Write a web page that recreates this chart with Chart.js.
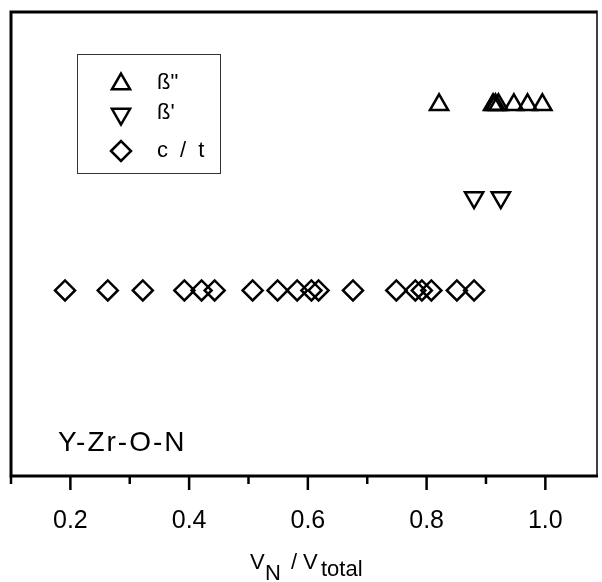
<!DOCTYPE html>
<html>
<head>
<meta charset="utf-8">
<script src="https://cdn.jsdelivr.net/npm/chart.js@4/dist/chart.umd.min.js"></script>
<style>
html,body{margin:0;padding:0;background:#fff;}
canvas{display:block;}
</style>
</head>
<body>
<canvas id="c" width="602" height="582"></canvas>
<script>
// ---- data ----
const betaDoublePrimeX = [0.821, 0.912, 0.916, 0.921, 0.947, 0.970, 0.995];
const betaDoublePrimeY = [3, 3, 3, 3, 3, 3, 3];
const betaPrimeX = [0.880, 0.925];
const betaPrimeY = [2, 2];
const ctX = [0.191, 0.263, 0.322, 0.392, 0.421, 0.443, 0.507, 0.549, 0.582, 0.606, 0.618, 0.676, 0.749, 0.781, 0.792, 0.808, 0.851, 0.880];
const ctY = [1, 1, 1, 1, 1, 1, 1, 1, 1, 1, 1, 1, 1, 1, 1, 1, 1, 1];
const seriesNames = ['ß"', "ß'", 'c / t'];
const tickValues = [0.1, 0.2, 0.3, 0.4, 0.5, 0.6, 0.7, 0.8, 0.9, 1.0];
const tickLabels = ['', '0.2', '', '0.4', '', '0.6', '', '0.8', '', '1.0'];
const systemLabel = 'Y-Zr-O-N';

const FONT = '"Liberation Sans", Arial, Helvetica, sans-serif';

function pts(xs, ys) { return xs.map((x, i) => ({x: x, y: ys[i]})); }

function markerPath(ctx, style, x, y, r) {
  ctx.beginPath();
  if (style === 'up' || style === 'down') {
    const base = style === 'up' ? 0 : Math.PI;
    for (let k = 0; k < 3; k++) {
      const a = base + k * 2 * Math.PI / 3;
      const px = x + Math.sin(a) * r, py = y - Math.cos(a) * r;
      k ? ctx.lineTo(px, py) : ctx.moveTo(px, py);
    }
  } else {
    ctx.moveTo(x - r, y); ctx.lineTo(x, y - r); ctx.lineTo(x + r, y); ctx.lineTo(x, y + r);
  }
  ctx.closePath();
  ctx.stroke();
}

const decorPlugin = {
  id: 'decor',
  afterDraw(chart) {
    const ctx = chart.ctx;
    const a = chart.chartArea;
    const xs = chart.scales.x;
    ctx.save();
    ctx.strokeStyle = '#000';
    ctx.lineCap = 'butt';
    // frame
    ctx.lineWidth = 3;
    ctx.beginPath();
    ctx.moveTo(a.right, a.top); ctx.lineTo(a.left, a.top); ctx.lineTo(a.left, a.bottom); ctx.lineTo(a.right + 1, a.bottom);
    ctx.stroke();
    ctx.lineWidth = 1.5;
    ctx.beginPath(); ctx.moveTo(a.right, a.top - 1.5); ctx.lineTo(a.right, a.bottom); ctx.stroke();
    // x ticks
    ctx.lineWidth = 2.5;
    xs.ticks.forEach((t, i) => {
      const px = xs.getPixelForValue(t.value);
      const major = tickLabels[i] !== '';
      ctx.beginPath();
      ctx.moveTo(px, a.bottom);
      ctx.lineTo(px, a.bottom + (major ? 14 : 8));
      ctx.stroke();
    });
    // legend box
    ctx.lineWidth = 1;
    ctx.strokeStyle = '#333';
    ctx.strokeRect(77.5, 54.5, 143, 119);
    ctx.strokeStyle = '#000';
    ctx.lineWidth = 2.5;
    markerPath(ctx, 'up', 121, 84, 10.5);
    markerPath(ctx, 'down', 121, 114, 10.5);
    markerPath(ctx, 'diamond', 121, 151, 10);
    ctx.fillStyle = '#000';
    ctx.textAlign = 'left';
    ctx.textBaseline = 'alphabetic';
    ctx.font = '22px ' + FONT;
    ctx.fillText(seriesNames[0], 157, 89);
    ctx.fillText(seriesNames[1], 157, 119);
    ctx.letterSpacing = '3px';
    ctx.fillText(seriesNames[2], 157, 157);
    ctx.letterSpacing = '0px';
    // system label
    ctx.font = '28px ' + FONT;
    ctx.letterSpacing = '2px';
    ctx.fillText(systemLabel, 58, 451);
    ctx.letterSpacing = '0px';
    // x axis title V_N / V_total
    ctx.font = '22px ' + FONT;
    ctx.fillText('V', 250, 569);
    ctx.fillText('N', 265, 580);
    ctx.fillText('/', 291, 569);
    ctx.fillText('V', 303, 569);
    ctx.fillText('total', 321, 576);
    ctx.restore();
  }
};

new Chart(document.getElementById('c'), {
  type: 'scatter',
  data: {
    datasets: [
      { label: seriesNames[0], data: pts(betaDoublePrimeX, betaDoublePrimeY), pointStyle: 'triangle', pointRadius: 10.5, pointRotation: 0 },
      { label: seriesNames[1], data: pts(betaPrimeX, betaPrimeY), pointStyle: 'triangle', pointRadius: 10.5, pointRotation: 180 },
      { label: seriesNames[2], data: pts(ctX, ctY), pointStyle: 'rectRot', pointRadius: 10 }
    ].map(d => Object.assign(d, {
      showLine: false,
      borderColor: '#000',
      backgroundColor: 'rgba(0,0,0,0)',
      pointBorderWidth: 2.5,
      pointHoverRadius: d.pointRadius
    }))
  },
  options: {
    responsive: false,
    animation: false,
    devicePixelRatio: 1,
    events: [],
    layout: { autoPadding: false, padding: { left: 11, right: 5, top: 12, bottom: 0 } },
    plugins: { legend: { display: false }, tooltip: { enabled: false }, title: { display: false } },
    scales: {
      x: {
        type: 'linear',
        min: 0.1,
        max: 1.087,
        grid: { display: false, drawTicks: false },
        border: { display: false },
        ticks: {
          autoSkip: false,
          maxRotation: 0,
          padding: 30,
          color: '#000',
          font: { family: FONT, size: 25 },
          callback: function (v, i) { return tickLabels[i]; }
        },
        afterBuildTicks: s => { s.ticks = tickValues.map(v => ({ value: v })); },
        afterFit: s => { s.height = 106; s.paddingLeft = 0; s.paddingRight = 0; }
      },
      y: {
        type: 'linear',
        min: -1,
        max: 4,
        display: false
      }
    }
  },
  plugins: [decorPlugin]
});
</script>
</body>
</html>
